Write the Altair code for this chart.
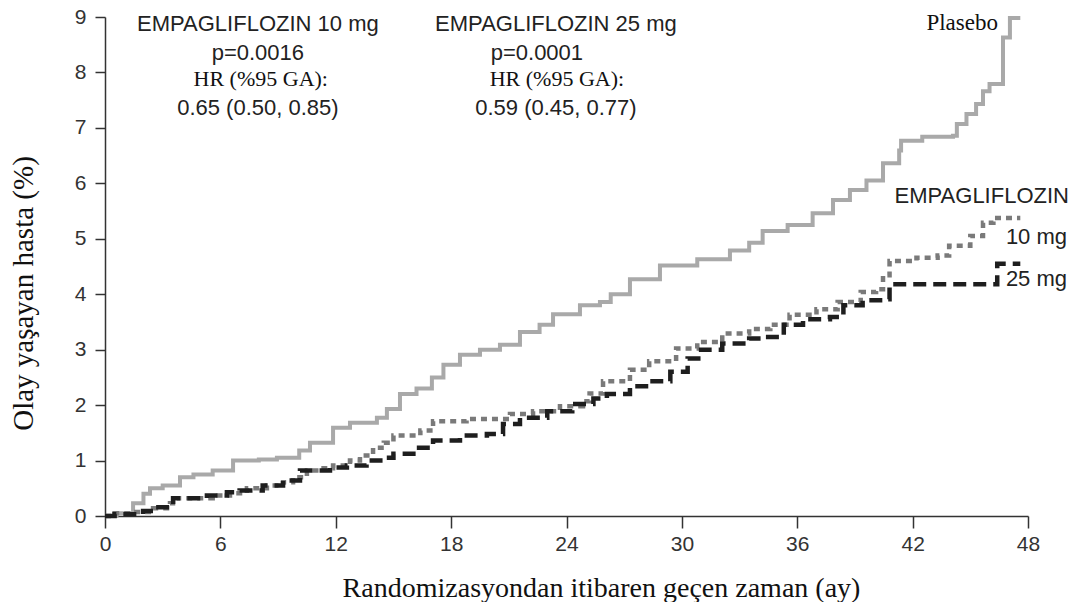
import altair as alt
import pandas as pd

# ---- data ----
placebo_t = [0, 0.6, 1.46, 2.0, 2.34, 3.0, 3.9, 4.6, 5.6, 6.66, 8.0, 8.94, 10.1, 10.66,
             11.86, 12.74, 14.14, 14.66, 15.34, 16.2, 17.0, 17.6, 18.46, 19.5, 20.54,
             21.58, 22.6, 23.3, 24.7, 25.74, 26.3, 27.3, 28.86, 30.8, 32.5, 33.5, 34.2,
             35.5, 36.8, 37.86, 38.74, 39.6, 40.46, 41.3, 41.4, 42.5, 44.1, 44.3, 44.8,
             45.3, 45.66, 46.0, 46.7, 47.06, 47.6]
placebo_v = [0, 0.05, 0.23, 0.4, 0.5, 0.55, 0.7, 0.75, 0.82, 1.0, 1.02, 1.05, 1.18, 1.32,
             1.59, 1.68, 1.77, 1.93, 2.2, 2.3, 2.5, 2.73, 2.91, 3.0, 3.09,
             3.32, 3.45, 3.64, 3.8, 3.86, 4.0, 4.27, 4.52, 4.63, 4.79, 4.93, 5.14,
             5.25, 5.46, 5.7, 5.88, 6.05, 6.36, 6.59, 6.77, 6.84, 6.86, 7.07, 7.25,
             7.43, 7.66, 7.79, 8.63, 8.98, 8.98]

emp10_t = [0, 0.5, 1.46, 2.5, 3.38, 3.74, 5.6, 6.5, 7.38, 8.42, 9.26, 9.78, 10.5, 11.2,
           11.86, 12.74, 13.26, 13.94, 14.5, 15.0, 16.4, 17.06, 18.8, 21.06, 22.26,
           23.66, 24.86, 25.2, 25.9, 27.3, 28.3, 29.7, 30.8, 32.1, 33.5, 34.6, 35.6,
           37.0, 38.1, 39.3, 40.1, 40.46, 40.8, 42.2, 43.3, 43.9, 45.0, 45.66, 46.2, 47.6]
emp10_v = [0, 0.05, 0.07, 0.14, 0.23, 0.32, 0.37, 0.41, 0.5, 0.55, 0.61, 0.7, 0.82, 0.86,
           0.91, 1.0, 1.09, 1.23, 1.32, 1.45, 1.54, 1.71, 1.75, 1.84, 1.89,
           1.98, 2.07, 2.21, 2.43, 2.64, 2.79, 3.02, 3.14, 3.29, 3.375, 3.45, 3.63,
           3.73, 3.86, 4.04, 4.09, 4.34, 4.6, 4.66, 4.7, 4.875, 5.05, 5.29, 5.375, 5.375]

emp25_t = [0, 0.5, 1.98, 2.5, 3.54, 5.3, 6.34, 7.0, 8.2, 9.26, 10.14, 11.7, 12.58, 13.6,
           14.46, 15.0, 16.2, 17.06, 18.46, 19.86, 20.7, 21.58, 23.0, 24.3, 25.4, 26.1,
           27.3, 28.3, 29.4, 30.3, 31.0, 32.1, 33.5, 34.2, 35.3, 36.3, 37.7, 38.4, 39.4,
           40.7, 40.8, 46.4, 47.6]
emp25_v = [0, 0.03, 0.09, 0.16, 0.32, 0.37, 0.43, 0.46, 0.55, 0.64, 0.82, 0.875, 0.91, 1.0,
           1.05, 1.125, 1.23, 1.36, 1.45, 1.48, 1.66, 1.77, 1.89, 2.02, 2.12, 2.2,
           2.34, 2.43, 2.6, 2.84, 3.0, 3.11, 3.2, 3.23, 3.45, 3.55, 3.59, 3.8, 3.89,
           3.91, 4.18, 4.55, 4.55]

series_names = ["Plasebo", "EMPAGLIFLOZIN 10 mg", "EMPAGLIFLOZIN 25 mg"]
x_ticks = [0, 6, 12, 18, 24, 30, 36, 42, 48]
y_ticks = [0, 1, 2, 3, 4, 5, 6, 7, 8, 9]

# annotation texts
ann_sans_center = ["EMPAGLIFLOZIN 10 mg", "p=0.0016", "0.65 (0.50, 0.85)",
                   "EMPAGLIFLOZIN 25 mg", "p=0.0001", "0.59 (0.45, 0.77)"]
ann_serif_center = ["HR (%95 GA):", "HR (%95 GA):"]
ann_serif_right = ["Plasebo"]
ann_sans_right = ["EMPAGLIFLOZIN", "10 mg", "25 mg"]

# ---- build tables ----
frames = []
for name, ts, vs in zip(series_names, [placebo_t, emp10_t, emp25_t], [placebo_v, emp10_v, emp25_v]):
    frames.append(pd.DataFrame({"t": ts, "v": vs, "series": name}))
df = pd.concat(frames, ignore_index=True)

# annotation anchors (data coordinates)
sans_center_pos = ([7.95, 7.95, 7.95, 23.45, 22.46, 23.45], [8.75, 8.22, 7.24, 8.75, 8.22, 7.24])
serif_center_pos = ([8.1, 23.5], [7.75, 7.75])
serif_right_pos = ([46.44], [8.77])
sans_right_pos = ([50.13, 50.03, 50.03], [5.64, 4.91, 4.14])

def ann_df(texts, pos):
    return pd.DataFrame({"label": texts, "t": pos[0], "v": pos[1]})

x_scale = alt.Scale(domain=[0, 48], nice=False, zero=False)
y_scale = alt.Scale(domain=[0, 9], nice=False, zero=False)

x_axis = alt.Axis(values=x_ticks, title="Randomizasyondan itibaren geçen zaman (ay)",
                  tickSize=12, labelPadding=5, titleX=496, titleY=80,
                  titleAlign="center", titleBaseline="alphabetic", grid=False,
                  labelFlush=False, format="d")
y_axis = alt.Axis(values=y_ticks, title="Olay yaşayan hasta (%)",
                  tickSize=10, labelPadding=9, titleX=-73, titleY=276,
                  titleAlign="center", titleBaseline="alphabetic", titleAngle=270,
                  titleFontSize=29, grid=False, labelFlush=False, format="d")

def enc(ch):
    return ch.encode(
        x=alt.X("t:Q", scale=x_scale, axis=x_axis),
        y=alt.Y("v:Q", scale=y_scale, axis=y_axis),
    )

styles = {
    "Plasebo": dict(color="#a9a9a9", strokeWidth=4),
    "EMPAGLIFLOZIN 10 mg": dict(color="#7a7a7a", strokeWidth=4.5, strokeDash=[6, 5]),
    "EMPAGLIFLOZIN 25 mg": dict(color="#1e1e1e", strokeWidth=4.5, strokeDash=[13, 7]),
}

layers = []
for name in series_names:
    layers.append(enc(
        alt.Chart(df).transform_filter(alt.datum.series == name)
        .mark_line(interpolate="step-after", strokeCap="butt", **styles[name])
    ))

layers.append(enc(alt.Chart(ann_df(ann_sans_center, sans_center_pos)).mark_text(
    font="Liberation Sans", fontSize=22, align="center", baseline="alphabetic", color="#222"
)).encode(text="label:N"))
layers.append(enc(alt.Chart(ann_df(ann_serif_center, serif_center_pos)).mark_text(
    font="Liberation Serif", fontSize=22, align="center", baseline="alphabetic", color="#111"
)).encode(text="label:N"))
layers.append(enc(alt.Chart(ann_df(ann_serif_right, serif_right_pos)).mark_text(
    font="Liberation Serif", fontSize=23, align="right", baseline="alphabetic", color="#111"
)).encode(text="label:N"))
layers.append(enc(alt.Chart(ann_df(ann_sans_right, sans_right_pos)).mark_text(
    font="Liberation Sans", fontSize=22, align="right", baseline="alphabetic", color="#222"
)).encode(text="label:N"))

chart = alt.layer(*layers).properties(
    width=923, height=499,
    autosize=alt.AutoSizeParams(type="none"),
    padding={"left": 97, "top": 9, "right": 45, "bottom": 86},
).configure_view(stroke=None).configure_axis(
    domainColor="#333", tickColor="#333", domainWidth=1.5, tickWidth=1.5,
    labelFont="Liberation Sans", labelFontSize=21, labelColor="#333",
    titleFont="Liberation Serif", titleFontSize=28, titleFontWeight="normal",
    titleColor="#111",
)

chart.save("out.html", embed_options={"renderer": "svg", "actions": False})
